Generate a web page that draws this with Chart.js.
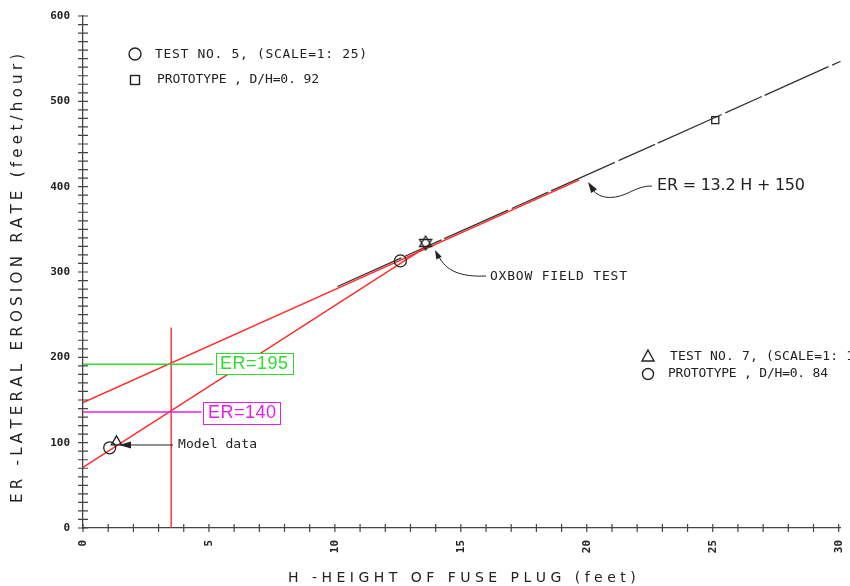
<!DOCTYPE html>
<html>
<head>
<meta charset="utf-8">
<script src="https://cdn.jsdelivr.net/npm/chart.js@4.4.0/dist/chart.umd.min.js"></script>
<style>
  html, body { margin: 0; padding: 0; background: #fff; }
</style>
</head>
<body>
<canvas id="chart" width="850" height="586"></canvas>
<script>
const xTickLabels = [0, 5, 10, 15, 20, 25, 30];
const yTickLabels = [0, 100, 200, 300, 400, 500, 600];

// ER = 13.2 H + 150 (black line)
const fitH = [10.1, 30.08];
const fitER = [283, 547];

// red construction lines
const redUpperH = [0, 19.7];
const redUpperER = [147, 408];
const redLowerH = [0, 13.7];
const redLowerER = [71, 331];
const redVertH = [3.5, 3.5];
const redVertER = [0, 235];

// reading lines
const greenH = [0, 5.18];
const greenER = [192, 192];
const magentaH = [0, 4.7];
const magentaER = [136, 136];

// measured points
const circleH = [1.06, 12.6];
const circleER = [94, 313];
const triangleH = [1.33];
const triangleER = [101];
const starH = [13.6];
const starER = [334];
const squareH = [25.1];
const squareER = [478];

const ink = '#222';
const toXY = (xs, ys) => xs.map((x, i) => ({ x: x, y: ys[i] }));

function lineSet(xs, ys, color, width, dash) {
  return {
    data: toXY(xs, ys),
    showLine: true,
    borderColor: color,
    borderWidth: width,
    borderDash: dash || [],
    pointRadius: 0,
    fill: false,
  };
}

function markSet(xs, ys, style, radius) {
  return {
    data: toXY(xs, ys),
    showLine: false,
    pointStyle: style,
    pointRadius: radius,
    borderColor: ink,
    borderWidth: 1.3,
    backgroundColor: 'rgba(0,0,0,0)',
  };
}

function makeHexagram(r) {
  const c = document.createElement('canvas');
  const s = Math.ceil(r * 2 + 4);
  c.width = s;
  c.height = s;
  const g = c.getContext('2d');
  g.strokeStyle = ink;
  g.lineWidth = 1.3;
  [-Math.PI / 2, Math.PI / 2].forEach(a0 => {
    g.beginPath();
    for (let k = 0; k < 3; k++) {
      const a = a0 + k * 2 * Math.PI / 3;
      const px = s / 2 + r * Math.cos(a), py = s / 2 + r * Math.sin(a);
      if (k) g.lineTo(px, py); else g.moveTo(px, py);
    }
    g.closePath();
    g.stroke();
  });
  return c;
}

// text stretched to a given width by spreading the letters
function spacedText(ctx, text, x, y, width) {
  const chars = [...text];
  const natural = ctx.measureText(text).width;
  const gap = chars.length > 1 ? (width - natural) / (chars.length - 1) : 0;
  let cx = x;
  chars.forEach(ch => {
    ctx.fillText(ch, cx, y);
    cx += ctx.measureText(ch).width + gap;
  });
}

function arrowHead(ctx, tipX, tipY, fromX, fromY, len, half) {
  const a = Math.atan2(tipY - fromY, tipX - fromX);
  ctx.beginPath();
  ctx.moveTo(tipX, tipY);
  ctx.lineTo(tipX - len * Math.cos(a) + half * Math.sin(a), tipY - len * Math.sin(a) - half * Math.cos(a));
  ctx.lineTo(tipX - len * Math.cos(a) - half * Math.sin(a), tipY - len * Math.sin(a) + half * Math.cos(a));
  ctx.closePath();
  ctx.fill();
}

const annotations = {
  id: 'annotations',
  afterDraw(chart) {
    const ctx = chart.ctx;
    const xs = chart.scales.x, ys = chart.scales.y;
    const x0 = xs.getPixelForValue(0), y0 = ys.getPixelForValue(0);
    ctx.save();

    // tick marks crossing the axes
    ctx.strokeStyle = '#444';
    ctx.lineWidth = 1.2;
    ctx.beginPath();
    ys.ticks.forEach(t => {
      const y = ys.getPixelForValue(t.value);
      ctx.moveTo(x0 - 5, y); ctx.lineTo(x0 + 5, y);
    });
    xs.ticks.forEach(t => {
      const x = xs.getPixelForValue(t.value);
      ctx.moveTo(x, y0 - 4); ctx.lineTo(x, y0 + 4);
    });
    ctx.stroke();

    ctx.fillStyle = ink;
    ctx.strokeStyle = ink;
    ctx.textBaseline = 'middle';
    ctx.textAlign = 'left';

    // axis titles
    ctx.font = '15px "DejaVu Sans"';
    ctx.save();
    ctx.translate(18, 503);
    ctx.rotate(-Math.PI / 2);
    spacedText(ctx, 'ER -LATERAL EROSION RATE (feet/hour)', 0, 0, 446);
    ctx.restore();
    ctx.font = '14px "DejaVu Sans"';
    spacedText(ctx, 'H -HEIGHT OF FUSE PLUG (feet)', 288, 578, 347);

    // legend, upper left
    ctx.lineWidth = 1.4;
    ctx.beginPath(); ctx.arc(135, 54, 6, 0, 2 * Math.PI); ctx.stroke();
    ctx.strokeRect(130.5, 75.5, 9, 9);
    ctx.font = '13px "DejaVu Sans Mono"';
    spacedText(ctx, 'TEST NO. 5, (SCALE=1: 25)', 155, 55, 212);
    spacedText(ctx, 'PROTOTYPE , D/H=0. 92', 157, 80, 162);

    // legend, right
    ctx.beginPath();
    ctx.moveTo(648, 350); ctx.lineTo(654, 361); ctx.lineTo(642, 361); ctx.closePath();
    ctx.stroke();
    ctx.beginPath(); ctx.arc(648, 374, 5.5, 0, 2 * Math.PI); ctx.stroke();
    spacedText(ctx, 'TEST NO. 7, (SCALE=1: 10)', 670, 357, 200);
    spacedText(ctx, 'PROTOTYPE , D/H=0. 84', 668, 374, 160);

    // equation label with leader
    ctx.font = '16px "DejaVu Sans"';
    spacedText(ctx, 'ER = 13.2 H + 150', 657, 186, 148);
    ctx.lineWidth = 1;
    ctx.beginPath();
    ctx.moveTo(592, 189);
    ctx.bezierCurveTo(600, 200, 615, 199, 628, 193);
    ctx.bezierCurveTo(638, 188, 644, 186, 652, 186);
    ctx.stroke();
    arrowHead(ctx, 588, 182, 598, 197, 11, 3.5);

    // oxbow label with leader
    ctx.font = '13px "DejaVu Sans Mono"';
    spacedText(ctx, 'OXBOW FIELD TEST', 490, 277, 137);
    ctx.beginPath();
    ctx.moveTo(438, 255);
    ctx.bezierCurveTo(446, 272, 462, 277, 486, 276);
    ctx.stroke();
    arrowHead(ctx, 435, 250, 441, 262, 9, 3);

    // model data label with arrow
    spacedText(ctx, 'Model data', 178, 445, 79);
    ctx.beginPath();
    ctx.moveTo(173, 445); ctx.lineTo(128, 445);
    ctx.stroke();
    arrowHead(ctx, 119, 445, 135, 445, 12, 3.5);

    // boxed reading values
    ctx.font = '18px "Liberation Sans"';
    ctx.fillStyle = '#2fdc2f';
    ctx.fillRect(216, 353, 78, 22);
    ctx.fillStyle = '#fff';
    ctx.fillRect(217, 354, 76, 20);
    ctx.fillStyle = '#2fdc2f';
    spacedText(ctx, 'ER=195', 220, 364, 68);
    ctx.fillStyle = '#e51fe5';
    ctx.fillRect(203, 402, 78, 23);
    ctx.fillStyle = '#fff';
    ctx.fillRect(204, 403, 76, 21);
    ctx.fillStyle = '#e51fe5';
    spacedText(ctx, 'ER=140', 208, 413, 68);

    ctx.restore();
  }
};

const config = {
  type: 'scatter',
  data: {
    datasets: [
      markSet(circleH, circleER, 'circle', 6),
      markSet(triangleH, triangleER, 'triangle', 6),
      markSet(starH, starER, makeHexagram(7), 8),
      markSet(squareH, squareER, 'rect', 5),
      lineSet(greenH, greenER, '#2fdc2f', 1.5),
      lineSet(magentaH, magentaER, '#e51fe5', 1.5),
      lineSet(redVertH, redVertER, '#ff2b2b', 1.4),
      lineSet(redUpperH, redUpperER, '#ff2b2b', 1.5),
      lineSet(redLowerH, redLowerER, '#ff2b2b', 1.4),
      lineSet(fitH, fitER, '#333', 1.3, [70, 4, 40, 3]),
    ],
  },
  options: {
    responsive: false,
    animation: false,
    layout: {
      padding: { top: 16, right: 0, bottom: 0, left: 0 },
    },
    plugins: {
      legend: { display: false },
      tooltip: { enabled: false },
    },
    scales: {
      x: {
        type: 'linear',
        min: 0,
        max: 30.08,
        afterBuildTicks: s => {
          const t = [];
          for (let v = 0; v <= 30; v++) t.push({ value: v });
          s.ticks = t;
        },
        afterFit: s => {
          s.height = 58;
          s.paddingLeft = 0;
          s.paddingRight = 0;
        },
        grid: { display: false, drawTicks: false },
        border: { display: true, color: '#444', width: 1.3 },
        ticks: {
          autoSkip: false,
          minRotation: 90,
          maxRotation: 90,
          padding: 12,
          color: ink,
          font: { family: 'DejaVu Sans Mono', size: 11, weight: 'bold' },
          callback: v => (xTickLabels.includes(v) ? String(v) : ''),
        },
      },
      y: {
        type: 'linear',
        min: 0,
        max: 600,
        afterBuildTicks: s => {
          const t = [];
          for (let v = 0; v <= 600; v += 10) t.push({ value: v });
          s.ticks = t;
        },
        afterFit: s => {
          s.width = 83;
          s.paddingTop = 0;
          s.paddingBottom = 0;
        },
        grid: { display: false, drawTicks: false },
        border: { display: true, color: '#444', width: 1.3 },
        ticks: {
          autoSkip: false,
          padding: 13,
          color: ink,
          font: { family: 'DejaVu Sans Mono', size: 11, weight: 'bold' },
          callback: v => (yTickLabels.includes(v) ? String(v) : ''),
        },
      },
    },
  },
  plugins: [annotations],
};

const myChart = new Chart(document.getElementById('chart'), config);
</script>
</body>
</html>
